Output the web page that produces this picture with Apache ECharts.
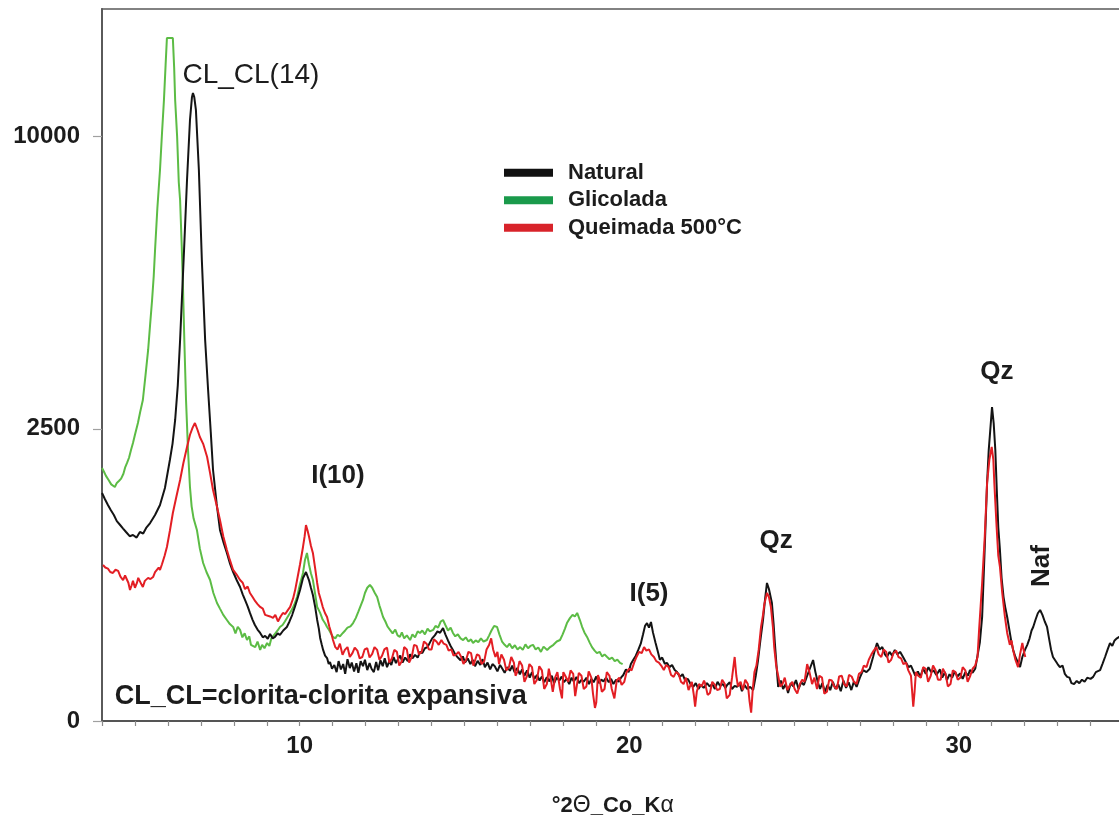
<!DOCTYPE html>
<html>
<head>
<meta charset="utf-8">
<script src="https://cdn.jsdelivr.net/npm/echarts@6/dist/echarts.min.js"></script>
<style>
  html, body { margin: 0; padding: 0; background: #ffffff; }
  #chart { width: 1119px; height: 816px; }
</style>
</head>
<body>
<div id="chart"></div>
<script>
// Diffractograms, [°2θ, counts]
const natural = [
  [4.00,1523],[4.09,1440],[4.18,1367],[4.27,1300],[4.36,1243],[4.45,1170],[4.55,1125],[4.64,1085],[4.73,1046],[4.84,1000],
  [4.94,1013],[5.05,985],[5.15,1046],[5.25,1030],[5.34,1091],[5.46,1148],[5.61,1243],[5.76,1367],[5.91,1590],[6.06,1995],
  [6.14,2250],[6.22,2654],[6.30,3300],[6.37,4252],[6.49,6498],[6.58,8573],[6.67,10580],[6.73,11400],[6.76,11552],[6.80,11400],
  [6.85,10935],[6.94,8893],[7.03,6225],[7.13,4252],[7.22,3209],[7.30,2450],[7.37,1845],[7.48,1380],[7.58,1069],[7.69,930],
  [7.79,827],[7.89,720],[7.98,650],[8.09,580],[8.19,526],[8.27,470],[8.34,429],[8.42,385],[8.49,342],[8.57,300],
  [8.64,270],[8.72,245],[8.80,227],[8.88,205],[8.95,212],[9.03,198],[9.10,222],[9.18,200],[9.25,207],[9.33,225],
  [9.40,217],[9.50,240],[9.61,259],[9.69,290],[9.77,329],[9.85,380],[9.92,429],[10.01,503],[10.10,599],[10.19,650],
  [10.23,640],[10.28,582],[10.34,520],[10.40,465],[10.47,380],[10.53,299],[10.58,250],[10.62,202],[10.67,170],[10.71,148],
  [10.77,125],[10.83,116],[10.88,95],[10.92,102],[10.98,80],[11.05,92],[11.12,70],[11.18,105],[11.25,78],[11.32,95],
  [11.38,65],[11.45,112],[11.52,82],[11.58,100],[11.65,72],[11.72,98],[11.78,68],[11.85,105],[11.92,88],[11.98,110],
  [12.05,76],[12.12,98],[12.18,80],[12.25,70],[12.32,102],[12.38,75],[12.45,108],[12.52,88],[12.58,115],[12.65,85],
  [12.72,105],[12.78,92],[12.85,120],[12.92,98],[12.98,112],[13.05,125],[13.12,100],[13.20,118],[13.28,105],[13.35,130],
  [13.42,115],[13.50,128],[13.58,118],[13.65,140],[13.72,135],[13.80,155],[13.88,160],[13.95,180],[14.02,200],[14.10,215],
  [14.18,235],[14.26,228],[14.35,253],[14.42,220],[14.50,190],[14.58,165],[14.65,148],[14.72,130],[14.80,118],[14.88,108],
  [14.95,122],[15.02,100],[15.10,115],[15.18,95],[15.25,110],[15.32,88],[15.40,106],[15.48,92],[15.55,112],[15.62,85],
  [15.70,100],[15.78,78],[15.85,95],[15.92,88],[16.00,72],[16.08,92],[16.15,80],[16.22,68],[16.30,85],[16.38,74],
  [16.45,90],[16.52,70],[16.60,82],[16.68,64],[16.75,78],[16.82,60],[16.90,75],[16.98,55],[17.05,70],[17.12,52],
  [17.20,62],[17.28,48],[17.35,58],[17.42,44],[17.50,56],[17.58,46],[17.65,60],[17.72,42],[17.80,55],[17.88,48],
  [17.95,58],[18.02,44],[18.10,52],[18.18,40],[18.25,55],[18.32,46],[18.40,57],[18.48,42],[18.55,50],[18.62,45],
  [18.70,55],[18.78,40],[18.85,52],[18.92,44],[19.00,58],[19.08,42],[19.15,50],[19.22,46],[19.30,55],[19.38,44],
  [19.45,52],[19.52,40],[19.60,50],[19.68,45],[19.75,55],[19.82,62],[19.90,78],[19.98,70],[20.05,95],[20.12,109],
  [20.20,125],[20.28,150],[20.35,175],[20.42,220],[20.48,265],[20.54,281],[20.60,255],[20.66,287],[20.72,230],[20.80,178],
  [20.87,140],[20.93,110],[21.00,118],[21.08,96],[21.15,99],[21.22,85],[21.30,92],[21.38,76],[21.45,70],[21.54,57],
  [21.62,64],[21.70,48],[21.78,52],[21.86,40],[21.94,34],[22.02,42],[22.10,30],[22.18,38],[22.26,32],[22.36,42],
  [22.44,35],[22.52,40],[22.60,30],[22.68,45],[22.76,36],[22.84,40],[22.92,32],[22.97,38],[23.05,44],[23.12,30],
  [23.20,36],[23.27,34],[23.35,42],[23.42,26],[23.50,38],[23.58,30],[23.67,34],[23.76,28],[23.84,60],[23.91,109],
  [23.98,190],[24.06,299],[24.12,430],[24.18,558],[24.24,510],[24.33,408],[24.38,280],[24.42,178],[24.47,90],[24.52,34],
  [24.60,48],[24.67,30],[24.75,40],[24.82,23],[24.90,42],[24.98,35],[25.06,49],[25.14,30],[25.22,44],[25.30,38],
  [25.40,60],[25.48,80],[25.58,109],[25.65,70],[25.72,45],[25.79,30],[25.86,42],[25.94,25],[26.02,38],[26.10,28],
  [26.18,45],[26.26,30],[26.34,40],[26.42,26],[26.50,48],[26.58,32],[26.66,44],[26.74,28],[26.82,46],[26.90,34],
  [27.00,55],[27.10,76],[27.20,70],[27.30,80],[27.40,120],[27.46,150],[27.52,178],[27.60,150],[27.68,160],[27.76,130],
  [27.82,120],[27.90,140],[27.98,125],[28.06,148],[28.14,130],[28.22,140],[28.31,120],[28.40,100],[28.48,85],[28.55,90],
  [28.61,76],[28.68,60],[28.76,72],[28.83,57],[28.92,80],[29.00,65],[29.08,85],[29.16,70],[29.24,75],[29.32,62],
  [29.43,78],[29.50,55],[29.58,70],[29.64,49],[29.72,64],[29.80,55],[29.88,72],[29.96,58],[30.04,66],[30.12,52],
  [30.20,70],[30.28,60],[30.34,76],[30.42,68],[30.50,80],[30.56,85],[30.64,180],[30.71,317],[30.78,800],[30.86,1659],
  [30.91,2150],[30.95,2430],[31.01,2888],[31.06,2600],[31.11,2150],[31.16,1500],[31.20,1100],[31.25,857],[31.30,600],[31.36,450],
  [31.41,380],[31.47,317],[31.53,250],[31.59,190],[31.65,148],[31.72,120],[31.80,100],[31.86,85],[31.93,120],[32.01,148],
  [32.08,170],[32.15,200],[32.21,240],[32.26,259],[32.33,300],[32.40,340],[32.47,361],[32.54,330],[32.61,290],[32.68,259],
  [32.74,200],[32.80,150],[32.86,120],[32.92,125],[33.00,95],[33.07,85],[33.15,90],[33.22,65],[33.29,57],[33.36,55],
  [33.42,42],[33.50,40],[33.58,47],[33.66,42],[33.74,50],[33.82,45],[33.90,55],[34.00,52],[34.08,57],[34.16,70],
  [34.22,68],[34.29,76],[34.36,95],[34.44,120],[34.52,150],[34.59,178],[34.66,165],[34.73,190],[34.80,200],[34.87,207],
  [34.95,215]
];

const glicolada = [
  [4.00,1875],[4.06,1820],[4.12,1760],[4.20,1700],[4.28,1640],[4.34,1620],[4.39,1604],[4.45,1660],[4.52,1690],[4.58,1720],
  [4.65,1790],[4.70,1880],[4.76,1950],[4.82,2030],[4.88,2150],[4.94,2264],[5.00,2400],[5.09,2600],[5.16,2800],[5.24,3018],
  [5.32,3500],[5.40,4032],[5.46,4600],[5.52,5191],[5.57,5800],[5.61,6498],[5.68,7700],[5.76,8893],[5.82,10100],[5.88,11296],
  [5.93,12600],[5.97,13665],[6.06,13665],[6.15,13665],[6.19,12500],[6.22,11296],[6.28,10000],[6.33,8500],[6.37,7951],[6.42,6600],
  [6.46,5441],[6.50,4200],[6.55,3018],[6.61,2150],[6.67,1600],[6.72,1350],[6.78,1200],[6.88,1069],[6.97,870],[7.07,731],
  [7.17,650],[7.28,582],[7.38,480],[7.49,408],[7.58,370],[7.68,330],[7.79,299],[7.88,275],[7.98,259],[8.05,225],
  [8.12,260],[8.19,243],[8.26,205],[8.33,225],[8.40,192],[8.47,210],[8.52,170],[8.58,178],[8.65,160],[8.72,185],
  [8.80,148],[8.86,170],[8.93,155],[9.01,178],[9.08,165],[9.14,200],[9.19,207],[9.26,225],[9.33,240],[9.40,259],
  [9.48,270],[9.55,290],[9.61,299],[9.70,340],[9.78,370],[9.85,405],[9.92,450],[10.00,540],[10.10,642],[10.16,760],
  [10.22,827],[10.28,720],[10.34,640],[10.40,582],[10.47,470],[10.53,381],[10.58,360],[10.62,342],[10.70,300],[10.77,280],
  [10.83,259],[10.90,240],[10.96,220],[11.01,207],[11.08,200],[11.15,218],[11.22,210],[11.31,227],[11.38,240],[11.45,255],
  [11.54,262],[11.62,281],[11.70,310],[11.78,350],[11.86,395],[11.92,429],[11.98,480],[12.05,520],[12.13,542],[12.20,520],
  [12.28,480],[12.35,450],[12.42,390],[12.48,350],[12.53,317],[12.60,290],[12.67,260],[12.74,243],[12.82,225],[12.90,245],
  [12.97,215],[13.04,207],[13.10,230],[13.17,200],[13.25,215],[13.35,192],[13.42,220],[13.50,205],[13.58,235],[13.65,227],
  [13.72,240],[13.80,220],[13.88,250],[13.95,235],[14.05,243],[14.12,265],[14.20,255],[14.28,290],[14.35,299],[14.42,270],
  [14.50,240],[14.58,255],[14.65,227],[14.72,210],[14.80,220],[14.88,200],[14.96,192],[15.04,205],[15.12,185],[15.20,195],
  [15.26,178],[15.34,190],[15.42,182],[15.50,200],[15.58,185],[15.68,192],[15.75,215],[15.82,240],[15.90,265],[15.99,259],
  [16.06,220],[16.14,185],[16.22,170],[16.29,160],[16.37,175],[16.45,155],[16.53,168],[16.61,150],[16.69,160],[16.77,148],
  [16.85,172],[16.93,155],[17.00,165],[17.08,170],[17.16,150],[17.24,158],[17.32,140],[17.40,162],[17.51,148],[17.60,160],
  [17.70,170],[17.80,185],[17.90,192],[17.98,220],[18.05,250],[18.11,281],[18.20,310],[18.28,330],[18.35,320],[18.42,342],
  [18.50,300],[18.57,260],[18.64,230],[18.72,207],[18.80,180],[18.87,160],[18.95,145],[19.02,135],[19.10,140],[19.18,122],
  [19.25,130],[19.33,120],[19.40,112],[19.48,118],[19.56,105],[19.64,110],[19.72,99],[19.80,95]
];

const queimada = [
  [4.03,713],[4.10,690],[4.18,680],[4.25,650],[4.33,642],[4.41,670],[4.49,660],[4.56,610],[4.64,582],[4.70,620],
  [4.76,610],[4.80,560],[4.85,503],[4.90,540],[4.94,575],[5.00,520],[5.06,558],[5.10,600],[5.15,590],[5.20,545],
  [5.24,526],[5.30,575],[5.35,560],[5.40,600],[5.47,590],[5.55,607],[5.61,650],[5.67,640],[5.72,690],[5.76,668],
  [5.82,720],[5.90,800],[5.97,887],[6.06,1060],[6.15,1267],[6.26,1480],[6.37,1701],[6.47,1950],[6.58,2199],[6.67,2400],
  [6.75,2520],[6.82,2601],[6.90,2480],[6.97,2363],[7.07,2250],[7.19,2041],[7.28,1800],[7.37,1563],[7.47,1380],[7.58,1183],
  [7.68,1000],[7.79,857],[7.88,760],[7.98,668],[8.08,630],[8.19,582],[8.27,560],[8.34,510],[8.42,530],[8.49,480],
  [8.57,450],[8.65,420],[8.72,400],[8.80,381],[8.88,370],[8.95,330],[9.01,342],[9.10,320],[9.19,311],[9.26,330],
  [9.34,290],[9.42,320],[9.49,342],[9.56,335],[9.64,360],[9.71,381],[9.80,440],[9.86,500],[9.92,582],[10.01,720],
  [10.10,887],[10.15,1000],[10.19,1125],[10.24,1060],[10.28,1000],[10.34,900],[10.40,827],[10.47,680],[10.53,558],[10.58,480],
  [10.64,430],[10.70,380],[10.77,340],[10.83,317],[10.90,260],[10.96,225],[11.01,192],[11.08,160],[11.15,150],[11.22,175],
  [11.30,128],[11.37,148],[11.45,160],[11.52,120],[11.60,135],[11.67,158],[11.75,145],[11.82,115],[11.90,120],[11.97,150],
  [12.05,155],[12.12,118],[12.20,132],[12.27,160],[12.35,148],[12.42,110],[12.50,125],[12.57,150],[12.65,158],[12.72,100],
  [12.80,115],[12.87,148],[12.95,140],[13.02,90],[13.10,105],[13.17,160],[13.25,150],[13.32,100],[13.40,120],[13.47,170],
  [13.55,165],[13.62,130],[13.70,140],[13.77,185],[13.85,175],[13.92,150],[14.00,150],[14.07,195],[14.15,185],[14.22,170],
  [14.30,192],[14.37,175],[14.45,170],[14.52,145],[14.60,150],[14.67,125],[14.75,130],[14.82,140],[14.90,120],[14.97,95],
  [15.05,110],[15.12,140],[15.20,135],[15.27,90],[15.30,100],[15.38,130],[15.45,125],[15.52,95],[15.60,105],[15.67,150],
  [15.75,170],[15.81,200],[15.87,150],[15.94,120],[16.00,140],[16.05,95],[16.12,130],[16.20,110],[16.27,75],[16.35,85],
  [16.42,120],[16.50,100],[16.55,60],[16.60,70],[16.67,105],[16.75,90],[16.82,45],[16.90,60],[16.97,95],[17.05,85],
  [17.12,40],[17.20,50],[17.27,88],[17.35,75],[17.42,30],[17.50,40],[17.56,80],[17.60,62],[17.68,25],[17.75,55],
  [17.82,70],[17.90,30],[17.96,15],[18.00,70],[18.07,58],[18.15,45],[18.22,75],[18.30,65],[18.36,18],[18.40,20],
  [18.47,68],[18.55,60],[18.62,30],[18.70,35],[18.77,72],[18.85,55],[18.90,22],[18.96,5],[19.00,10],[19.05,62],
  [19.10,50],[19.17,25],[19.25,30],[19.32,70],[19.40,60],[19.47,30],[19.55,15],[19.62,48],[19.70,55],[19.77,38],
  [19.85,45],[19.92,70],[20.00,80],[20.07,75],[20.15,100],[20.22,120],[20.30,140],[20.38,135],[20.45,160],[20.52,145],
  [20.60,150],[20.67,130],[20.75,120],[20.82,105],[20.90,100],[20.97,90],[21.05,76],[21.12,92],[21.20,85],[21.27,62],
  [21.35,57],[21.42,70],[21.50,65],[21.57,45],[21.65,40],[21.72,55],[21.80,28],[21.87,40],[21.90,45],[21.96,20],
  [22.00,6],[22.05,25],[22.12,40],[22.20,35],[22.27,48],[22.30,42],[22.38,20],[22.45,23],[22.52,45],[22.60,38],
  [22.67,28],[22.75,30],[22.82,50],[22.90,40],[22.96,15],[23.05,20],[23.12,55],[23.20,120],[23.25,60],[23.30,35],
  [23.38,45],[23.45,28],[23.52,50],[23.60,40],[23.65,12],[23.70,2],[23.75,30],[23.80,70],[23.86,90],[23.93,150],
  [24.00,259],[24.06,330],[24.10,400],[24.18,480],[24.24,450],[24.30,380],[24.36,260],[24.40,160],[24.46,90],[24.52,60],
  [24.58,35],[24.65,40],[24.72,55],[24.80,28],[24.88,38],[24.95,45],[25.02,30],[25.10,22],[25.18,40],[25.25,50],
  [25.32,45],[25.40,95],[25.47,70],[25.55,40],[25.62,55],[25.70,30],[25.77,60],[25.85,55],[25.92,22],[26.00,25],
  [26.07,50],[26.15,48],[26.22,35],[26.30,30],[26.37,58],[26.45,60],[26.52,40],[26.60,35],[26.67,62],[26.75,58],
  [26.82,45],[26.90,40],[26.97,65],[27.05,70],[27.12,90],[27.20,85],[27.27,110],[27.35,130],[27.42,145],[27.50,160],
  [27.57,130],[27.65,120],[27.72,150],[27.80,140],[27.87,100],[27.95,110],[28.02,135],[28.10,145],[28.17,120],[28.25,115],
  [28.32,95],[28.40,100],[28.47,75],[28.55,60],[28.58,30],[28.62,6],[28.66,25],[28.70,70],[28.77,60],[28.85,55],
  [28.92,85],[29.00,80],[29.07,45],[29.15,60],[29.22,90],[29.30,75],[29.37,50],[29.45,50],[29.52,80],[29.60,65],
  [29.67,35],[29.75,40],[29.82,75],[29.90,70],[29.97,50],[30.05,55],[30.12,85],[30.20,75],[30.27,45],[30.35,60],
  [30.42,80],[30.50,90],[30.57,120],[30.62,250],[30.71,558],[30.79,1000],[30.86,1659],[30.93,2000],[31.00,2199],[31.05,2000],
  [31.08,1659],[31.15,1100],[31.20,800],[31.25,695],[31.32,480],[31.40,320],[31.47,227],[31.55,170],[31.60,190],[31.65,148],
  [31.72,110],[31.80,85],[31.86,130],[31.93,178],[31.98,140],[32.02,120]
];

const seriesNames = ['Natural', 'Glicolada', 'Queimada 500°C'];
const yTickLabels = [0, 2500, 10000];
const xLabelStep = 10;

// Peak labels anchored at [°2θ, counts]
const peakLabels = [
  { text: 'CL_CL(14)', at: [8.52, 12224], bold: false, size: 28 },
  { text: 'I(10)', at: [11.16, 1758], bold: true, size: 26 },
  { text: 'I(5)', at: [20.60, 472], bold: true, size: 26 },
  { text: 'Qz', at: [24.46, 949], bold: true, size: 26 },
  { text: 'Qz', at: [31.16, 3568], bold: true, size: 26 },
  { text: 'Naf', at: [32.53, 704], bold: true, size: 26, rotate: true }
];
const noteText = 'CL_CL=clorita-clorita expansiva';
const noteAt = [4.39, 17];

const FONT = '"Liberation Sans", Arial, Helvetica, sans-serif';
const INK = '#1c1c1c';
const COLORS = { line: ['#141414', '#5cbc45', '#e31e24'], key: ['#111111', '#1a9a4b', '#d8232a'] };

// counts are shown on a square-root intensity scale
const sq = (pts) => pts.map(p => [p[0], Math.sqrt(p[1])]);
const sqTicks = yTickLabels.map(Math.sqrt);

const chart = echarts.init(document.getElementById('chart'), null, { renderer: 'canvas' });

const lineSeries = (name, data, color) => ({
  name, type: 'line', data: sq(data), symbol: 'none', showSymbol: false,
  lineStyle: { color, width: 2 }, itemStyle: { color },
  emphasis: { disabled: true }, animation: false, clip: true
});

chart.setOption({
  backgroundColor: '#ffffff',
  animation: false,
  grid: {
    left: 102, top: 9, width: 1021.5, height: 712, outerBoundsMode: 'none', containLabel: false,
    show: true, borderColor: '#5a5a5a', borderWidth: 1.5, backgroundColor: 'transparent'
  },
  legend: {
    left: 499, top: 154, padding: 5, orient: 'vertical', icon: 'rect', itemWidth: 49, itemHeight: 8, itemGap: 0,
    selectedMode: false,
    textStyle: { fontFamily: FONT, fontWeight: 'bold', fontSize: 22, color: INK, lineHeight: 27.5, padding: [0, 0, 0, 10] },
    data: seriesNames.map((n, i) => ({ name: n, itemStyle: { color: COLORS.key[i], borderWidth: 0 } }))
  },
  xAxis: {
    type: 'value', min: 4, max: 35, interval: 1,
    name: '{b|°2}{g|Θ}{b|_Co_K}{g|α}', nameLocation: 'middle', nameGap: 73,
    nameTextStyle: {
      rich: {
        b: { fontFamily: FONT, fontWeight: 'bold', fontSize: 22, color: INK },
        g: { fontFamily: FONT, fontWeight: 'normal', fontSize: 23, color: INK }
      }
    },
    axisLine: { lineStyle: { color: '#555555', width: 2 } },
    axisTick: { show: true, length: 5, lineStyle: { color: '#8a8a8a', width: 1.2 } },
    axisLabel: {
      margin: 13, fontFamily: FONT, fontWeight: 'bold', fontSize: 24, color: INK,
      formatter: v => (Math.round(v) % xLabelStep === 0 ? String(Math.round(v)) : '')
    },
    splitLine: { show: false }
  },
  yAxis: {
    type: 'value', min: 0, max: 121.85, interval: 50,
    axisLine: { show: true, lineStyle: { color: '#5a5a5a', width: 2 } },
    axisTick: { show: true, length: 9, customValues: sqTicks, lineStyle: { color: '#a0a0a0', width: 1.2 } },
    axisLabel: {
      margin: 22, fontFamily: FONT, fontWeight: 'bold', fontSize: 24, color: INK,
      customValues: sqTicks,
      formatter: v => String(Math.round(v * v))
    },
    splitLine: { show: false }
  },
  series: [
    lineSeries(seriesNames[1], glicolada, COLORS.line[1]),
    lineSeries(seriesNames[0], natural, COLORS.line[0]),
    lineSeries(seriesNames[2], queimada, COLORS.line[2])
  ]
});

// place the peak labels and the note in data coordinates
const toPx = (p) => chart.convertToPixel({ gridIndex: 0 }, [p[0], Math.sqrt(p[1])]);
const texts = peakLabels.map(l => {
  const [x, y] = toPx(l.at);
  return {
    type: 'text', x, y, rotation: l.rotate ? Math.PI / 2 : 0, silent: true, z: 10,
    style: {
      text: l.text, fontFamily: FONT, fontWeight: l.bold ? 'bold' : 'normal', fontSize: l.size,
      fill: INK, align: 'center', verticalAlign: 'middle'
    }
  };
});
const [nx, ny] = toPx(noteAt);
texts.push({
  type: 'text', x: nx, y: ny, silent: true, z: 10,
  style: { text: noteText, fontFamily: FONT, fontWeight: 'bold', fontSize: 27, fill: INK, align: 'left', verticalAlign: 'middle' }
});
chart.setOption({ graphic: texts });
</script>
</body>
</html>
